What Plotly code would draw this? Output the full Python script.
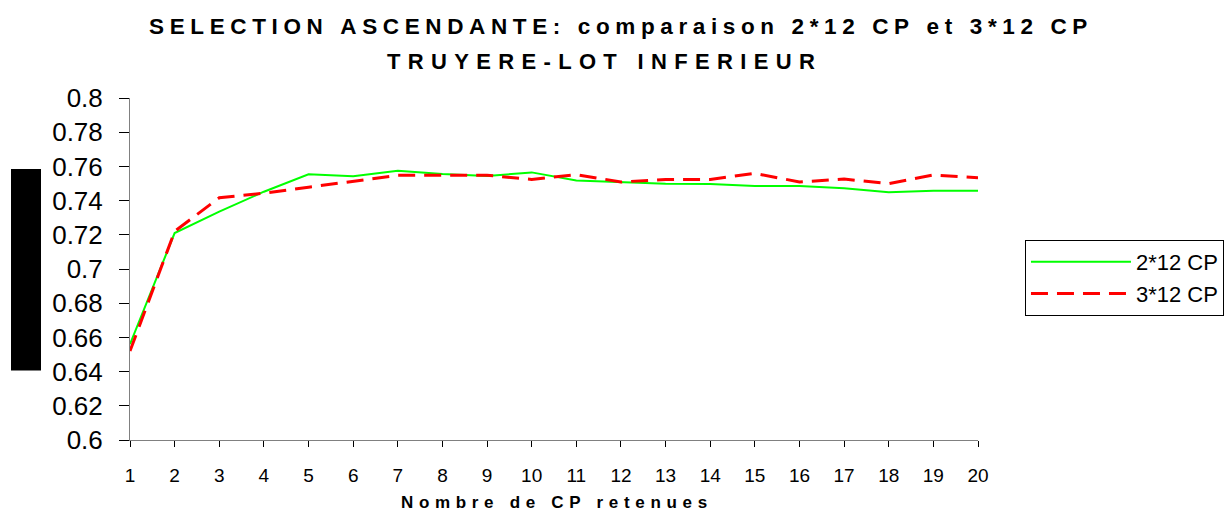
import plotly.graph_objects as go

# Nombre de CP retenues
nb_cp = list(range(1, 21))

# 2*12 CP
cp_2x12 = [0.656, 0.721, 0.7335, 0.7452, 0.7554, 0.7542, 0.7575, 0.7556, 0.7544, 0.7565,
           0.7517, 0.7507, 0.7499, 0.7497, 0.7485, 0.7485, 0.7472, 0.7449, 0.7458, 0.7458]
# 3*12 CP
cp_3x12 = [0.652, 0.722, 0.7417, 0.7443, 0.7478, 0.7515, 0.7548, 0.7548, 0.7548, 0.7524,
           0.7552, 0.7509, 0.7524, 0.7524, 0.7559, 0.7509, 0.7526, 0.7499, 0.7550, 0.7534]

titre_1 = "SELECTION ASCENDANTE: comparaison 2*12 CP et 3*12 CP"
titre_2 = "TRUYERE-LOT INFERIEUR"
titre_x = "Nombre de CP retenues"


def espacer(txt, sep="\u2004"):
    # lettres espacées comme dans l'original
    return sep.join(txt)


fig = go.Figure()

fig.add_trace(go.Scatter(
    x=nb_cp, y=cp_2x12, mode="lines", name="2*12 CP",
    line=dict(color="#00FF00", width=2), legendgroup="a"
))
fig.add_trace(go.Scatter(
    x=nb_cp, y=cp_3x12, mode="lines", name="3*12 CP",
    line=dict(color="#FF0000", width=3, dash="17px,9px"), legendgroup="b"
))

axe_x = dict(range=[1, 20], tickmode="linear", tick0=1, dtick=1)
axe_y = dict(range=[0.6, 0.8], tickmode="linear", tick0=0.6, dtick=0.02)

fig.update_layout(
    width=1224, height=513,
    margin=dict(l=130, r=246, t=98, b=73, autoexpand=False),
    paper_bgcolor="white", plot_bgcolor="white",
    font=dict(family="Liberation Sans, Arial, sans-serif", color="black"),
    xaxis=dict(**axe_x, showgrid=False, zeroline=False, showline=True,
               linecolor="#808080", linewidth=1, ticks="outside", ticklen=6,
               tickcolor="black", tickfont=dict(size=19), ticklabelstandoff=12),
    yaxis=dict(**axe_y, showgrid=False, zeroline=False, showline=True,
               linecolor="#808080", linewidth=1, ticks="outside", ticklen=10,
               tickcolor="black", tickformat="~g", tickfont=dict(size=26),
               ticklabelstandoff=11),
    # traits intérieurs pour des graduations croisées
    xaxis2=dict(**axe_x, overlaying="x", anchor="y", showgrid=False, zeroline=False,
                showticklabels=False, ticks="inside", ticklen=6, tickcolor="black"),
    yaxis2=dict(**axe_y, overlaying="y", anchor="x", side="left", showgrid=False,
                zeroline=False, showticklabels=False, ticks="inside", ticklen=8,
                tickcolor="black"),
    showlegend=True,
    legend=dict(x=1.0554, y=0.5848, xanchor="left", yanchor="top",
                bordercolor="black", borderwidth=1, bgcolor="white",
                font=dict(size=22), itemwidth=100, tracegroupgap=0,
                traceorder="grouped"),
)

fig.add_annotation(text="<b>" + espacer(titre_1, "\u2005") + "</b>", xref="paper", yref="paper",
                   x=0.575, y=(440 - 26) / 342, showarrow=False,
                   font=dict(size=22.5), xanchor="center", yanchor="middle")
fig.add_annotation(text="<b>" + espacer(titre_2) + "</b>", xref="paper", yref="paper",
                   x=0.556, y=(440 - 62) / 342, showarrow=False,
                   font=dict(size=22), xanchor="center", yanchor="middle")
fig.add_annotation(text="<b>" + espacer(titre_x) + "</b>", xref="paper", yref="paper",
                   x=0.5, y=(440 - 502) / 342, showarrow=False,
                   font=dict(size=17), xanchor="center", yanchor="middle")

# bloc noir à gauche de l'axe
fig.add_shape(type="rect", xref="paper", yref="paper",
              x0=(11 - 130) / 848, x1=(41 - 130) / 848,
              y0=(440 - 370.5) / 342, y1=(440 - 169) / 342,
              fillcolor="black", line=dict(width=0))

fig.write_html("out.html", config={"displayModeBar": False},
               post_script="document.body.style.margin='0px';")
